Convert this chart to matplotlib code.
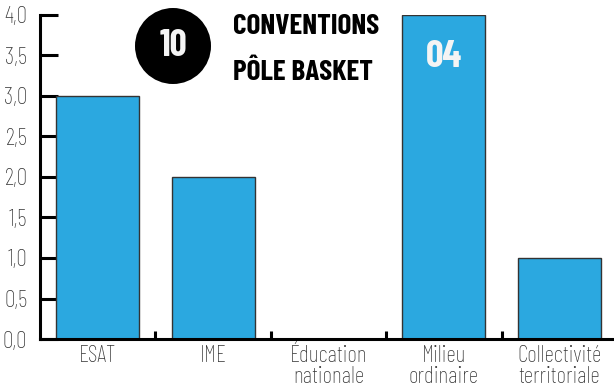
import matplotlib
matplotlib.use("Agg")
import matplotlib.pyplot as plt
from matplotlib.patches import Ellipse
from matplotlib.ticker import FixedLocator, NullFormatter

categories = ["ESAT", "IME", "Éducation\nnationale", "Milieu\nordinaire", "Collectivité\nterritoriale"]
values = [3, 2, 0, 4, 1]
y_ticks = [0.0, 0.5, 1.0, 1.5, 2.0, 2.5, 3.0, 3.5, 4.0]
title_lines = ["CONVENTIONS", "PÔLE BASKET"]
highlight = "Milieu\nordinaire"

bar_color = "#2ba8e0"
cond = ["Barlow Condensed", "DejaVu Sans"]

W, H = 614, 391
fig = plt.figure(figsize=(W / 100, H / 100), dpi=100)
ax = fig.add_axes([40 / W, 52 / H, 577 / W, 324 / H])

x = list(range(len(categories)))
ax.bar(x, values, width=0.72, color=bar_color, edgecolor="#333333", linewidth=1.0, zorder=2)

ax.set_xlim(-0.5, len(categories) - 0.5)
ax.set_ylim(0, 4.0)

for s in ["top", "right"]:
    ax.spines[s].set_visible(False)
for s in ["left", "bottom"]:
    ax.spines[s].set_linewidth(2.2)
    ax.spines[s].set_color("black")

ax.set_yticks(y_ticks)
ax.set_yticklabels([f"{v:.1f}".replace(".", ",") for v in y_ticks],
                   family=cond, fontsize=17, fontweight="light", color="#333333")
ax.tick_params(axis="y", direction="in", length=13, width=2.2, pad=9)

# category labels centred, ticks between categories
ax.xaxis.set_major_locator(FixedLocator([i + 0.5 for i in x[:-1]]))
ax.xaxis.set_major_formatter(NullFormatter())
ax.xaxis.set_minor_locator(FixedLocator(x))
ax.set_xticklabels(categories, minor=True, family=cond, fontsize=17, fontweight="light",
                   color="#333333", linespacing=0.95)
ax.tick_params(axis="x", which="major", direction="in", length=6, width=2.2)
ax.tick_params(axis="x", which="minor", length=0, pad=4)

# value label on highlighted bar
hi = categories.index(highlight)
ax.text(hi, values[hi] - 0.52, f"{values[hi]:02d}", ha="center", va="center",
        family=cond, fontsize=28, fontweight="bold", color="#f4f4f4", zorder=3)

# total badge and title
total = sum(values)
badge = Ellipse((173 / W, 1 - 46 / H), 76 / W, 76 / H, transform=fig.transFigure,
                facecolor="black", edgecolor="none", zorder=5)
fig.patches.append(badge)
fig.text(173 / W, 1 - 46 / H, f"{total}", ha="center", va="center", family=cond,
         fontsize=27, fontweight="bold", color="#f4f4f4", zorder=6)
fig.text(233 / W, 1 - 27 / H, title_lines[0], ha="left", va="center", family=cond,
         fontsize=21, fontweight="bold", color="black")
fig.text(233 / W, 1 - 72 / H, title_lines[1], ha="left", va="center", family=cond,
         fontsize=21, fontweight="bold", color="black")

fig.savefig("out.png", dpi=100)
